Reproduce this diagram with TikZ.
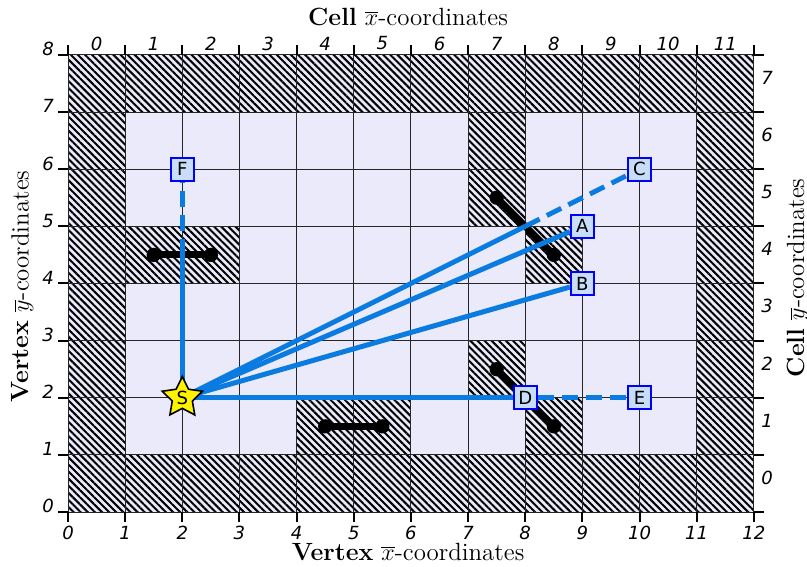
\documentclass[tikz,border=0pt]{standalone}
\usepackage{fontspec}
\newfontfamily\dejavu{DejaVu Sans}
\usetikzlibrary{shapes.geometric, patterns.meta}
\definecolor{RayBlue}{HTML}{0A7BE0}
\definecolor{CellFill}{HTML}{EAEAFA}
\definecolor{BoxFill}{HTML}{C8DDF8}
\pgfdeclarelayer{front}
\pgfsetlayers{main,front}

\begin{document}
\begin{tikzpicture}[
    wall/.style={pattern={Lines[angle=-45, distance=2.5pt, line width=1pt]}},
    tick/.style={line width=1pt},
    ticklabel/.style={font=\dejavu\itshape\fontsize{9}{9}\selectfont, inner sep=0pt},
    axistitle/.style={font=\fontsize{12.4}{14}\selectfont, inner sep=0pt},
    ray/.style={RayBlue, line width=2.5pt},
    blocked/.style={ray, dash pattern=on 8pt off 4pt},
    dot/.style={circle, fill=black, minimum size=0.25cm, inner sep=0pt},
    seg/.style={line width=3.4pt},
    target/.style={draw=blue, fill=BoxFill, line width=1pt, minimum size=0.4cm,
                   inner sep=1pt, font=\dejavu\fontsize{9}{9}\selectfont}]
  \useasboundingbox (-1.19,-0.95) rectangle (12.93,8.96);

  % free cells and walls
  \fill[CellFill] (0,0) rectangle (12,8);
  \fill[wall] (0,0) rectangle (12,1);
  \fill[wall] (0,7) rectangle (12,8);
  \fill[wall] (0,1) rectangle (1,7);
  \fill[wall] (11,1) rectangle (12,7);
  \foreach \ax/\ay/\bx/\by in {1/4/3/5, 4/1/6/2, 7/5/8/7, 8/4/9/5, 7/2/8/3, 8/1/9/2}
    \fill[wall] (\ax,\ay) rectangle (\bx,\by);
  \draw[line width=0.5pt, black!85] (0,0) grid (12,8);

  % ticks and tick labels
  \foreach \i in {0,...,12} {
    \draw[tick] (\i,0) -- ++(0,-0.17);
    \draw[tick] (\i,8) -- ++(0,0.17);
    \node[ticklabel] (vx\i) at (\i,-0.36) {\i};
  }
  \foreach \i in {0,...,11}
    \node[ticklabel] (cx\i) at (\i+0.5,8.2) {\i};
  \foreach \i in {0,...,8} {
    \draw[tick] (0,\i) -- ++(-0.17,0);
    \draw[tick] (12,\i) -- ++(0.17,0);
    \node[ticklabel] (vy\i) at (-0.35,\i+0.1) {\i};
  }
  \foreach \i in {0,...,7}
    \node[ticklabel] (cy\i) at (12.23,\i+0.6) {\i};

  % axis titles
  \node[axistitle] (xbot) at (5.95,-0.7) {\textbf{Vertex} $\overline{x}$-coordinates};
  \node[axistitle] (xtop) at (5.95,8.66) {\textbf{Cell} $\overline{x}$-coordinates};
  \node[axistitle, rotate=90] (yleft) at (-0.8,3.95) {\textbf{Vertex} $\overline{y}$-coordinates};
  \node[axistitle, rotate=90] (yright) at (12.77,4.1) {\textbf{Cell} $\overline{y}$-coordinates};

  % obstacle segments
  \foreach \n/\p/\q in {a/{1.5,4.5}/{2.5,4.5}, b/{4.5,1.5}/{5.5,1.5},
                        c/{7.5,5.5}/{8.5,4.5}, d/{7.5,2.5}/{8.5,1.5}} {
    \node[dot] (\n1) at (\p) {};
    \node[dot] (\n2) at (\q) {};
    \draw[seg] (\n1.center) -- (\n2.center);
  }

  % source and targets
  \begin{pgfonlayer}{front}
    \node[star, star points=5, star point ratio=2, draw, fill=yellow, line width=0.8pt,
          minimum size=0.74cm, inner sep=0pt, font=\dejavu\fontsize{9}{9}\selectfont]
      (S) at (2,2) {S};
    \node[target] (A) at (9,5) {A};
    \node[target] (B) at (9,4) {B};
    \node[target] (C) at (10,6) {C};
    \node[target] (D) at (8,2) {D};
    \node[target] (E) at (10,2) {E};
    \node[target] (F) at (2,6) {F};
  \end{pgfonlayer}
  \coordinate (hitC) at (8,5);
  \coordinate (hitF) at (2,4.5);

  % rays
  \draw[ray] (S.center) -- (A);
  \draw[ray] (S.center) -- (B);
  \draw[ray] (S.center) -- (hitC);
  \draw[blocked] (hitC) -- (C);
  \draw[ray] (S.center) -- (D);
  \draw[blocked] (D) -- (E);
  \draw[ray] (S.center) -- (hitF);
  \draw[blocked] (hitF) -- (F);
\end{tikzpicture}
\end{document}
